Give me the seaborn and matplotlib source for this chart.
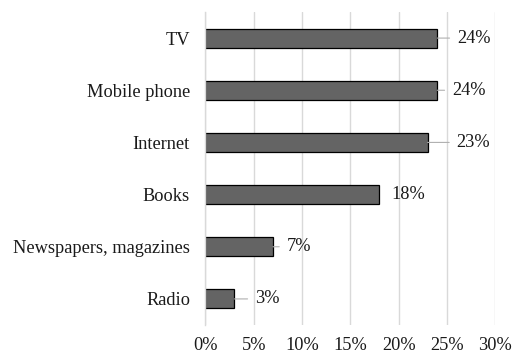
import matplotlib
matplotlib.use("Agg")
import matplotlib.pyplot as plt
import seaborn as sns
import pandas as pd

categories = ["TV", "Mobile phone", "Internet", "Books", "Newspapers, magazines", "Radio"]
values = [24, 24, 23, 18, 7, 3]
value_labels = ["24%", "24%", "23%", "18%", "7%", "3%"]
x_ticks = [0, 5, 10, 15, 20, 25, 30]
x_tick_labels = ["0%", "5%", "10%", "15%", "20%", "25%", "30%"]
# label offsets from bar end (pixels) as placed in the reference
label_offsets_px = [19.7, 14.7, 29, 11.7, 13.7, 20.7]

sns.set_theme(style="white")
plt.rcParams["font.family"] = ["Liberation Serif", "DejaVu Serif"]

df = pd.DataFrame({"category": categories, "value": values})

fig = plt.figure(figsize=(5.12, 3.53), dpi=100)
ax = fig.add_axes([0.401, 0.0793, 0.9674 - 0.401, 0.966 - 0.0793])

sns.barplot(data=df, x="value", y="category", orient="h", color="#646464",
            edgecolor="black", linewidth=0.9, width=0.365, saturation=1, ax=ax)

fs = 13.2
ax.set_xlim(0, 30)
ax.set_ylim(5.5, -0.5)
ax.set_xticks(x_ticks)
ax.set_xticklabels(x_tick_labels, fontsize=fs, color="#1a1a1a")
ax.tick_params(axis="x", length=0, pad=8.5)
ax.tick_params(axis="y", length=0, pad=11, labelsize=fs, labelcolor="#1a1a1a")
ax.set_xlabel("")
ax.set_ylabel("")
ax.xaxis.grid(True, color="#d9d9d9", linewidth=1)
ax.set_axisbelow(True)
for s in ["top", "right", "bottom"]:
    ax.spines[s].set_visible(False)
ax.spines["left"].set_color("#d9d9d9")
ax.spines["left"].set_linewidth(1)

for i, (v, lab, off) in enumerate(zip(values, value_labels, label_offsets_px)):
    arrow = dict(arrowstyle="-", color="#b0b0b0", lw=0.8, shrinkA=3, shrinkB=0) if off > 12 else None
    ax.annotate(lab, xy=(v, i), xytext=(off * 0.72, 0), textcoords="offset points",
                ha="left", va="center", fontsize=fs, color="#1a1a1a",
                arrowprops=arrow)

fig.savefig("out.png", dpi=100)
